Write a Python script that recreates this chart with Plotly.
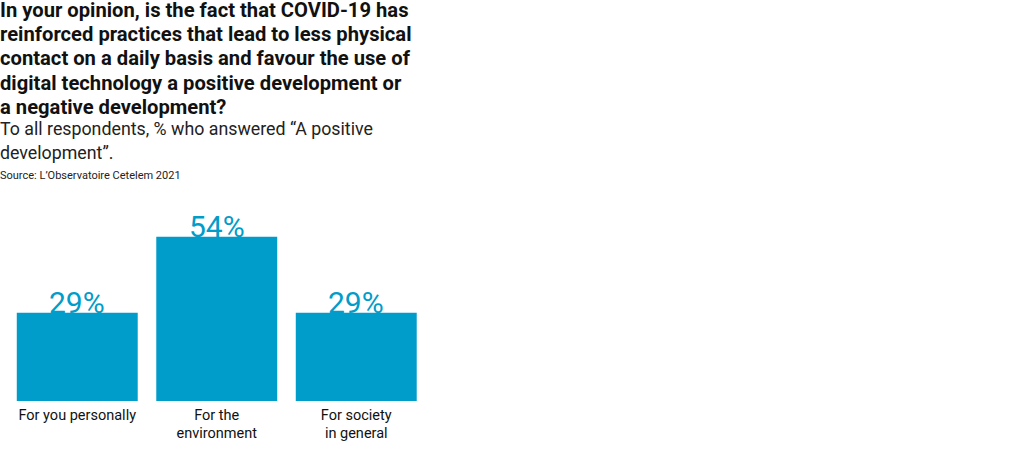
import plotly.graph_objects as go

categories = ["For you personally", "For the<br>environment", "For society<br>in general"]
values = [29, 54, 29]
value_labels = ["29%", "54%", "29%"]

title_lines = [
    "In your opinion, is the fact that COVID-19 has",
    "reinforced practices that lead to less physical",
    "contact on a daily basis and favour the use of",
    "digital technology a positive development or",
    "a negative development?",
]
subtitle_lines = ["To all respondents, % who answered “A positive", "development”."]
source_text = "Source: L’Observatoire Cetelem 2021"

BAR = "#009CCA"
FONT = "Roboto, sans-serif"
W, H = 1020, 451
PLOT_BOTTOM = 401  # pixel of y=0
DESC = 0.244  # Roboto descent (em)

fig = go.Figure()
fig.add_trace(go.Bar(x=categories, y=values, marker=dict(color=BAR, line=dict(width=0)),
                     hoverinfo="skip"))

VAL_SIZE = 30
for c, v, t in zip(categories, values, value_labels):
    fig.add_annotation(x=c, y=v, xref="x", yref="y", text=t, showarrow=False,
                       yanchor="bottom", yshift=-(1 + DESC * VAL_SIZE + 1),
                       font=dict(family=FONT, size=VAL_SIZE, color=BAR))

def text_line(text, baseline, size, color, adj):
    y_px = baseline + DESC * size + 1 + adj
    fig.add_annotation(x=0, y=1 - y_px / PLOT_BOTTOM, xref="paper", yref="paper",
                       xanchor="left", yanchor="bottom", text=text, showarrow=False,
                       xshift=-2, font=dict(family=FONT, size=size, color=color))

for i, line in enumerate(title_lines):
    text_line("<b>%s</b>" % line, 14.5 + i * 24.2, 20.2, "#111111", 3.5)
for i, line in enumerate(subtitle_lines):
    text_line(line, 133.5 + i * 24.5, 17.8, "#222222", 2)
text_line(source_text, 178, 11, "#222222", 2)

fig.update_layout(
    width=W, height=H,
    margin=dict(l=0, r=0, t=0, b=H - PLOT_BOTTOM, pad=0),
    plot_bgcolor="white", paper_bgcolor="white",
    bargap=0.133, showlegend=False,
    xaxis=dict(domain=[7.5 / W, 426 / W], showgrid=False, showline=False, zeroline=False,
               ticks="", ticklabelstandoff=3,
               tickfont=dict(family=FONT, size=14.5, color="#111111")),
    yaxis=dict(range=[0, PLOT_BOTTOM / 3.04], visible=False, showgrid=False, zeroline=False),
    font=dict(family=FONT),
)

fig.write_html("out.html", config={"displayModeBar": False},
               post_script="document.body.style.margin='0';")
